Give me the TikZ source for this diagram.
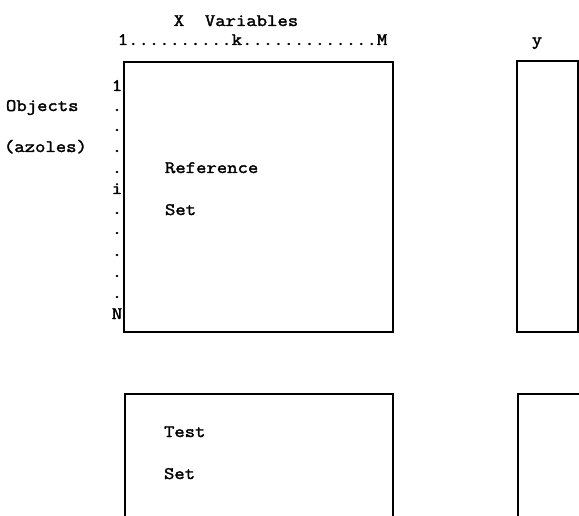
\documentclass[tikz,border=0pt]{standalone}
\usepackage{fontspec}
\newfontfamily\typewriter{Latin Modern Mono}[FakeBold=2, FakeStretch=1.15]
\begin{document}
\begin{tikzpicture}[x=1pt,y=-1pt,
  txt/.style={font=\typewriter\fontsize{17.5}{20}\selectfont, inner sep=0pt, outer sep=0pt},
  panel/.style={draw, line width=1.2pt, inner sep=0pt, outer sep=0pt, anchor=north west}]
  \useasboundingbox (0,0) rectangle (579,516);
  \clip (0,0) rectangle (579,516);

  % data matrices
  \node[panel, minimum width=269pt, minimum height=270pt] (refset) at (124,62) {};
  \node[panel, minimum width=61pt,  minimum height=271pt] (yref)   at (517,61) {};
  \node[panel, minimum width=268pt, minimum height=150pt] (testset) at (125,394) {};
  \node[panel, minimum width=90pt,  minimum height=150pt] (ytest)  at (518,394) {};

  % column header
  \node[txt, anchor=base] (xvar) at (236,26) {X\ \ Variables};
  \node[txt, anchor=base] (cols) at (252.5,45) {1..........k.............M};
  \node[txt, anchor=base] (ylab) at (537,45) {y};

  % row header
  \node[txt, anchor=base west] (objects) at (6,111) {Objects};
  \node[txt, anchor=base west] (azoles) at (4,152) {(azoles)};
  \foreach \t/\yy [count=\n] in {1/91,./111,./131,./152,./173,i/194,./214,./234,./256,./277,./298,N/319}
    \node[txt, anchor=base] (row\n) at (117,\yy) {\t};

  % set labels
  \node[txt, anchor=base west] (reflbl) at (165,173) {Reference};
  \node[txt, anchor=base west] (setlbl) at (165,215) {Set};
  \node[txt, anchor=base west] (testlbl) at (164,437) {Test};
  \node[txt, anchor=base west] (tsetlbl) at (164,479) {Set};
\end{tikzpicture}
\end{document}
